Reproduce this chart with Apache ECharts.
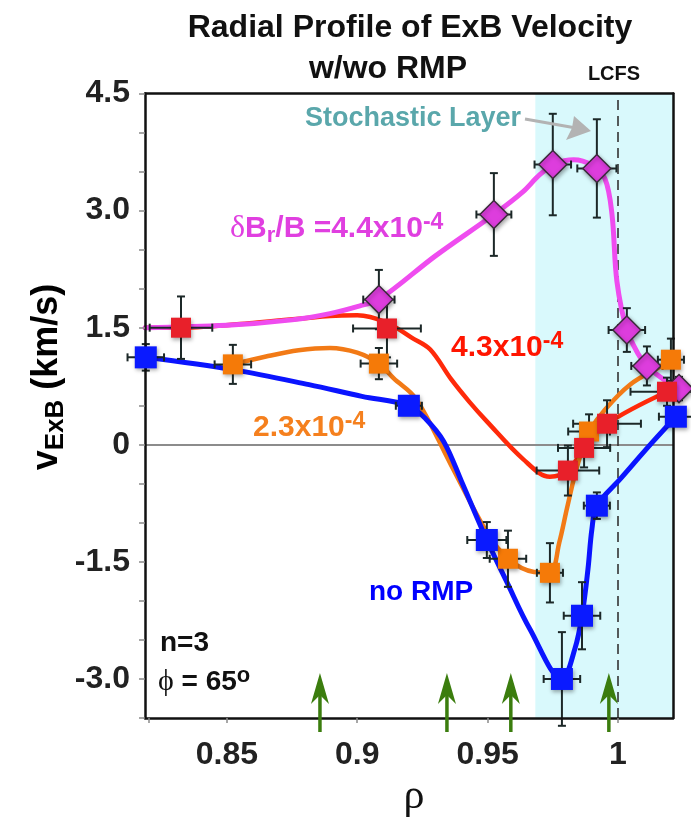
<!DOCTYPE html>
<html>
<head>
<meta charset="utf-8">
<script src="https://cdn.jsdelivr.net/npm/echarts@6/dist/echarts.min.js"></script>
<style>
  html, body { margin: 0; padding: 0; background: #fff; }
  #chart { width: 691px; height: 819px; }
</style>
</head>
<body>
<div id="chart"></div>
<script>
// ---- Measured ExB velocity (km/s) vs normalized radius rho, with error bars ----
// no RMP
const rhoNoRmp  = [0.8189, 0.9198, 0.9497, 0.9785, 0.9862, 0.9919, 1.0222];
const vNoRmp    = [1.12, 0.50, -1.22, -3.00, -2.19, -0.78, 0.36];
const dRhoNoRmp = [0.007, 0.005, 0.0075, 0.007, 0.007, 0.005, 0.0065];
const dvNoRmp   = [0.17, 0.08, 0.23, 0.60, 0.43, 0.17, 0.12];
// dBr/B = 2.3e-4
const rhoLow  = [0.8523, 0.9083, 0.9578, 0.9739, 0.9889, 1.0203];
const vLow    = [1.03, 1.04, -1.46, -1.64, 0.17, 1.09];
const dRhoLow = [0.007, 0.007, 0.007, 0.005, 0.008, 0.005];
const dvLow   = [0.25, 0.20, 0.36, 0.38, 0.22, 0.27];
// dBr/B = 4.3e-4
const rhoMid  = [0.8324, 0.9114, 0.9808, 0.9870, 0.9958, 1.0188];
const vMid    = [1.50, 1.49, -0.33, -0.04, 0.27, 0.68];
const dRhoMid = [0.012, 0.013, 0.012, 0.010, 0.013, 0.014];
const dvMid   = [0.40, 0.37, 0.32, 0.25, 0.30, 0.18];
// dBr/B = 4.4e-4
const rhoHigh  = [0.9083, 0.9524, 0.9750, 0.9919, 1.0034, 1.0111, 1.0234];
const vHigh    = [1.86, 2.95, 3.59, 3.54, 1.47, 1.01, 0.72];
const dRhoHigh = [0.006, 0.0067, 0.007, 0.0075, 0.007, 0.006, 0.006];
const dvHigh   = [0.38, 0.53, 0.65, 0.63, 0.28, 0.25, 0.15];

// ---- Hand-fitted smooth profiles through each data set ----
const fitRhoNoRmp = [0.8189, 0.8527, 0.8815, 0.9018, 0.9198, 0.9263, 0.9332, 0.9400, 0.9497, 0.9574, 0.9662, 0.9785, 0.9835, 0.9862, 0.9885, 0.9900, 0.9919, 1.0008, 1.0134, 1.0222];
const fitVNoRmp   = [1.12, 0.96, 0.77, 0.62, 0.50, 0.33, 0.04, -0.47, -1.22, -1.76, -2.36, -3.00, -2.61, -2.19, -1.59, -1.08, -0.78, -0.44, 0.04, 0.36];
const fitRhoLow = [0.8523, 0.8650, 0.8775, 0.8895, 0.9000, 0.9083, 0.9140, 0.9225, 0.9360, 0.9497, 0.9578, 0.9678, 0.9739, 0.9775, 0.9804, 0.9835, 0.9866, 0.9889, 0.9950, 1.0046, 1.0160, 1.0203];
const fitVLow   = [1.03, 1.13, 1.21, 1.24, 1.18, 1.04, 0.85, 0.59, -0.26, -1.12, -1.46, -1.63, -1.64, -1.25, -0.82, -0.38, -0.03, 0.17, 0.45, 0.77, 1.00, 1.09];
const fitRhoMid = [0.8186, 0.8324, 0.8600, 0.8895, 0.9000, 0.9110, 0.9210, 0.9280, 0.9360, 0.9430, 0.9497, 0.9635, 0.9739, 0.9808, 0.9870, 0.9958, 1.0188];
const fitVMid   = [1.50, 1.50, 1.56, 1.65, 1.66, 1.57, 1.37, 1.22, 0.84, 0.55, 0.30, -0.18, -0.41, -0.33, -0.04, 0.27, 0.68];
const fitRhoHigh = [0.8186, 0.8500, 0.8750, 0.8895, 0.9010, 0.9083, 0.9300, 0.9524, 0.9635, 0.9700, 0.9760, 0.9830, 0.9900, 0.9950, 0.9977, 0.9996, 1.0034, 1.0080, 1.0111, 1.0170, 1.0234];
const fitVHigh   = [1.50, 1.53, 1.60, 1.68, 1.78, 1.86, 2.42, 2.95, 3.24, 3.46, 3.60, 3.65, 3.58, 3.41, 2.95, 2.09, 1.47, 1.15, 1.01, 0.85, 0.72];

// Radial positions marked with green arrows along the bottom
const arrowRho = [0.8857, 0.9344, 0.9589, 0.9965];

// Stochastic layer starts here and reaches past the last closed flux surface
const stochasticStart = 0.9683;
const lcfsRho = 1.0;

// Axis ticks and labels
const xTickValues  = [0.82, 0.85, 0.90, 0.95, 1.00];
const xLabelValues = [0.85, 0.90, 0.95, 1.00];
const xLabelText   = ['0.85', '0.9', '0.95', '1'];
const yTickValues  = [-3.5, -3.0, -2.5, -2.0, -1.5, -1.0, -0.5, 0, 0.5, 1.0, 1.5, 2.0, 2.5, 3.0, 3.5, 4.0, 4.5];
const yLabelValues = [-3.0, -1.5, 0, 1.5, 3.0, 4.5];
const yLabelText   = ['-3.0', '-1.5', '0', '1.5', '3.0', '4.5'];

const X_MIN = 0.8186, X_MAX = 1.0211, Y_MIN = -3.5, Y_MAX = 4.5;

const SANS = '"Liberation Sans", Arial, Helvetica, sans-serif';
const SERIF = '"Liberation Serif", "DejaVu Serif", serif';

const C_BLUE = '#0a14ff', C_ORANGE = '#f27a16', C_RED = '#ff2a0a', C_MAG = '#ef4cef';

function zip(a, b) { return a.map((v, i) => [v, b[i]]); }
function zip4(a, b, c, d) { return a.map((v, i) => [v, b[i], c[i], d[i]]); }
function lookup(vals, texts, v) {
  const i = vals.findIndex(t => Math.abs(t - v) < 1e-6);
  return i < 0 ? '' : texts[i];
}

// error bars: horizontal and vertical whiskers with end caps
function errorBarItem(params, api) {
  const x = api.value(0), y = api.value(1), dx = api.value(2), dy = api.value(3);
  const l = api.coord([x - dx, y]), r = api.coord([x + dx, y]);
  const t = api.coord([x, y + dy]), b = api.coord([x, y - dy]);
  const c = 4;
  const style = { stroke: '#1c2828', lineWidth: 2, fill: null };
  const seg = (x1, y1, x2, y2) => ({ type: 'line', shape: { x1, y1, x2, y2 }, style });
  return {
    type: 'group',
    children: [
      seg(l[0], l[1], r[0], r[1]),
      seg(l[0], l[1] - c, l[0], l[1] + c),
      seg(r[0], r[1] - c, r[0], r[1] + c),
      seg(t[0], t[1], b[0], b[1]),
      seg(t[0] - c, t[1], t[0] + c, t[1]),
      seg(b[0] - c, b[1], b[0] + c, b[1])
    ]
  };
}

// upward green arrows standing on the bottom axis
function arrowItem(params, api) {
  const base = api.coord([api.value(0), Y_MIN]);
  const x = base[0], yb = base[1] + 14, tip = base[1] - 45;
  return {
    type: 'group',
    children: [
      { type: 'line', shape: { x1: x, y1: yb, x2: x, y2: tip + 12 },
        style: { stroke: '#3b7d0e', lineWidth: 3.5 } },
      { type: 'polygon', shape: { points: [[x, tip], [x + 9, tip + 31], [x, tip + 22], [x - 9, tip + 31]] },
        style: { fill: '#3b7d0e' } }
    ]
  };
}

function fitSeries(name, rho, v, color, width) {
  return {
    name, type: 'line', data: zip(rho, v), smooth: 0.35, symbol: 'none', z: 3,
    clip: false, lineStyle: { color, width, cap: 'round' }, silent: true
  };
}
function errSeries(rho, v, dr, dv) {
  return { type: 'custom', renderItem: errorBarItem, data: zip4(rho, v, dr, dv),
           encode: { x: 0, y: 1 }, clip: false, z: 4, silent: true };
}
function markSeries(rho, v, symbol, size, color, border) {
  return {
    type: 'scatter', data: zip(rho, v), symbol, symbolSize: size, z: 6, clip: false, silent: true,
    itemStyle: {
      color, opacity: 1, borderColor: border || 'rgba(0,0,0,0)', borderWidth: border ? 1.5 : 0,
      shadowBlur: 4, shadowColor: 'rgba(0,0,0,0.35)', shadowOffsetX: 1, shadowOffsetY: 2
    }
  };
}

const chart = echarts.init(document.getElementById('chart'), null, { renderer: 'canvas' });

function textEl(x, y, text, size, color, rich, align) {
  return {
    type: 'text', z: 20, x, y, silent: true,
    style: Object.assign({
      text, font: 'bold ' + size + 'px ' + SANS, fill: color,
      align: align || 'left', verticalAlign: 'middle',
      textAlign: align || 'left', textVerticalAlign: 'middle'
    }, rich ? { rich } : {})
  };
}

function supRich(size, color) {
  return {
    m: { fontFamily: SANS, fontWeight: 'bold', fontSize: size, color, lineHeight: size + 6 },
    sup: { fontFamily: SANS, fontWeight: 'bold', fontSize: Math.round(size * 0.78), color,
           lineHeight: Math.round(size * 0.78), verticalAlign: 'top' },
    sub: { fontFamily: SANS, fontWeight: 'bold', fontSize: Math.round(size * 0.72), color,
           lineHeight: Math.round(size * 0.72), verticalAlign: 'bottom' },
    g: { fontFamily: SERIF, fontWeight: 'normal', fontSize: size + 2, color, lineHeight: size + 6 }
  };
}

const option = {
  animation: false,
  backgroundColor: '#ffffff',
  grid: { left: 145, right: 18, top: 93.5, bottom: 101, containLabel: false },
  xAxis: [
    {
      type: 'value', min: X_MIN, max: X_MAX, position: 'bottom', z: 5,
      axisLine: { show: true, onZero: false, lineStyle: { color: '#111', width: 2.5 } },
      axisTick: { show: true, inside: false, length: 5, customValues: xTickValues,
                  lineStyle: { color: '#8a8a8a', width: 1.5 } },
      axisLabel: {
        customValues: xLabelValues, margin: 21, fontFamily: SANS, fontWeight: 'bold',
        fontSize: 32, color: '#222', formatter: v => lookup(xLabelValues, xLabelText, v)
      },
      splitLine: { show: false }
    },
    {
      type: 'value', min: X_MIN, max: X_MAX, position: 'top', z: 5,
      axisLine: { show: true, onZero: false, lineStyle: { color: '#111', width: 2.5 } },
      axisTick: { show: false }, axisLabel: { show: false }, splitLine: { show: false }
    }
  ],
  yAxis: [
    {
      type: 'value', min: Y_MIN, max: Y_MAX, position: 'left', z: 5,
      axisLine: { show: true, onZero: false, lineStyle: { color: '#111', width: 2.5 } },
      axisTick: { show: true, inside: false, length: 6, customValues: yTickValues,
                  lineStyle: { color: '#8a8a8a', width: 1.5 } },
      axisLabel: {
        customValues: yLabelValues, margin: 15, fontFamily: SANS, fontWeight: 'bold',
        fontSize: 32, color: '#222', formatter: v => lookup(yLabelValues, yLabelText, v)
      },
      splitLine: { show: false }
    },
    {
      type: 'value', min: Y_MIN, max: Y_MAX, position: 'right', z: 5,
      axisLine: { show: true, onZero: false, lineStyle: { color: '#111', width: 2.5 } },
      axisTick: { show: false }, axisLabel: { show: false }, splitLine: { show: false }
    }
  ],
  series: [
    // stochastic layer shading, zero line and LCFS
    {
      type: 'line', data: [], z: 1, silent: true,
      markArea: {
        silent: true, z: 1,
        itemStyle: { color: '#d9f9fc' },
        data: [[{ xAxis: stochasticStart }, { xAxis: X_MAX }]]
      },
      markLine: {
        silent: true, z: 2, symbol: 'none', label: { show: false },
        data: [
          { yAxis: 0, lineStyle: { color: '#8c8c8c', width: 2, type: 'solid' } },
          { xAxis: lcfsRho, lineStyle: { color: '#333', width: 1.6, type: [10, 6] } }
        ]
      }
    },
    fitSeries('4.3x10^-4', fitRhoMid, fitVMid, C_RED, 4.5),
    fitSeries('4.4x10^-4', fitRhoHigh, fitVHigh, C_MAG, 5),
    fitSeries('2.3x10^-4', fitRhoLow, fitVLow, C_ORANGE, 4.5),
    fitSeries('no RMP', fitRhoNoRmp, fitVNoRmp, C_BLUE, 5),
    errSeries(rhoHigh, vHigh, dRhoHigh, dvHigh),
    errSeries(rhoMid, vMid, dRhoMid, dvMid),
    errSeries(rhoLow, vLow, dRhoLow, dvLow),
    errSeries(rhoNoRmp, vNoRmp, dRhoNoRmp, dvNoRmp),
    markSeries(rhoHigh, vHigh, 'diamond', 28, '#dd3ddd', '#3a2a3a'),
    markSeries(rhoLow, vLow, 'rect', 20, '#f57a08'),
    markSeries(rhoMid, vMid, 'rect', 20, '#e8202a'),
    markSeries(rhoNoRmp, vNoRmp, 'rect', 22, '#0a1aff'),
    {
      type: 'custom', renderItem: arrowItem, data: arrowRho.map(r => [r]),
      encode: { x: 0 }, clip: false, z: 7, silent: true
    }
  ],
  graphic: [
    textEl(410, 28, 'Radial Profile of ExB Velocity', 32, '#111', null, 'center'),
    textEl(388, 69, 'w/wo RMP', 32, '#111', null, 'center'),
    textEl(614, 74, 'LCFS', 20, '#111', null, 'center'),
    textEl(413, 119, 'Stochastic Layer', 27, '#5aa7ab', null, 'center'),
    // arrow pointing from the layer label into the shaded region
    { type: 'line', z: 20, silent: true, shape: { x1: 525, y1: 119, x2: 576, y2: 128 },
      style: { stroke: '#b3b3b3', lineWidth: 3 } },
    { type: 'polygon', z: 20, silent: true,
      shape: { points: [[591, 131], [566, 140], [572, 128], [574, 116]] },
      style: { fill: '#b3b3b3' } },
    textEl(230, 229, '{g|δ}{m|B}{sub|r}{m|/B =4.4x10}{sup|-4}', 30, '#e03fe0', supRich(30, '#e03fe0')),
    textEl(451, 348, '{m|4.3x10}{sup|-4}', 30, '#ff1500', supRich(30, '#ff1500')),
    textEl(253, 428, '{m|2.3x10}{sup|-4}', 30, '#f5801e', supRich(30, '#f5801e')),
    textEl(369, 592, 'no RMP', 28, '#0000ff'),
    textEl(160, 643, 'n=3', 28, '#111'),
    textEl(158, 682, '{g|ϕ}{m| = 65}{sup|o}', 28, '#111', supRich(28, '#111')),
    // y-axis title, rotated
    {
      type: 'text', z: 20, x: 47, y: 377, rotation: Math.PI / 2, silent: true,
      style: {
        text: '{m|v}{sub|ExB}{m| (km/s)}', align: 'center', verticalAlign: 'middle',
        textAlign: 'center', textVerticalAlign: 'middle',
        rich: {
          m: { fontFamily: SANS, fontWeight: 'bold', fontSize: 36, color: '#111', lineHeight: 44 },
          sub: { fontFamily: SANS, fontWeight: 'bold', fontSize: 26, color: '#111', lineHeight: 26, verticalAlign: 'bottom' }
        }
      }
    },
    // x-axis title
    {
      type: 'text', z: 20, x: 414, y: 797, silent: true,
      style: { text: 'ρ', font: '42px ' + SERIF, fill: '#111', align: 'center', verticalAlign: 'middle',
               textAlign: 'center', textVerticalAlign: 'middle' }
    }
  ]
};

chart.setOption(option);
</script>
</body>
</html>
